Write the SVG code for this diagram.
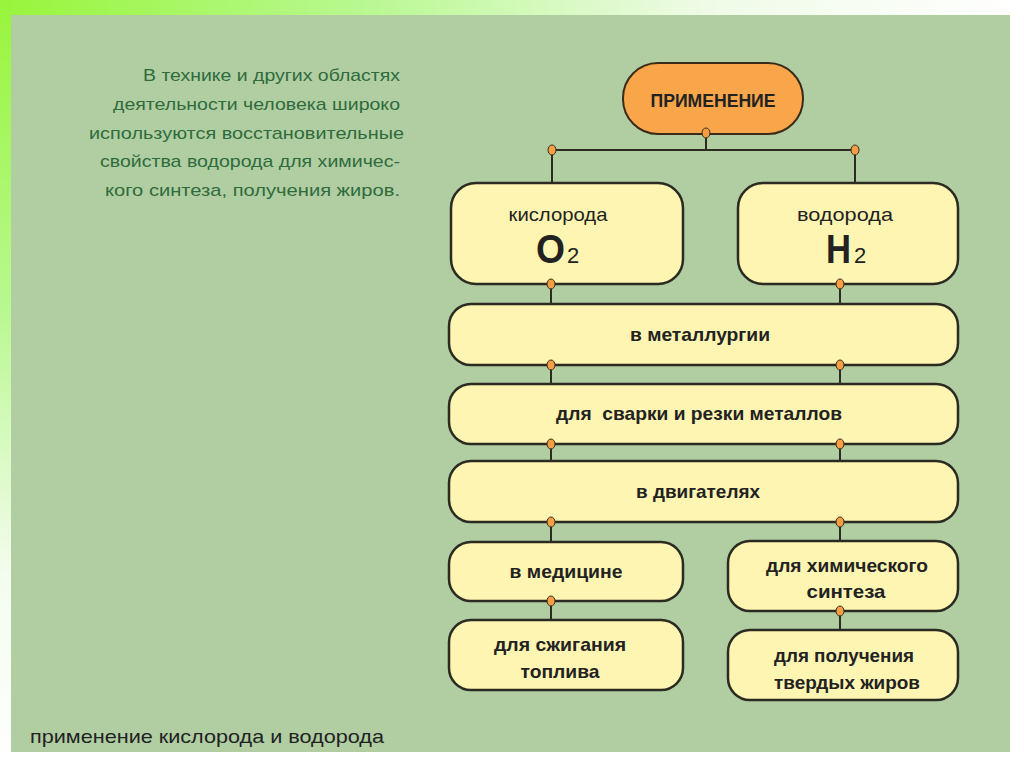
<svg xmlns="http://www.w3.org/2000/svg" width="1024" height="767" viewBox="0 0 1024 767">
<defs>
<linearGradient id="gTop" x1="0" y1="0" x2="1" y2="0">
<stop offset="0" stop-color="#98f53a"/>
<stop offset="0.35" stop-color="#b8f890"/>
<stop offset="0.7" stop-color="#f0fbe8"/>
<stop offset="1" stop-color="#ffffff"/>
</linearGradient>
<linearGradient id="gLeft" x1="0" y1="0" x2="0" y2="1">
<stop offset="0" stop-color="#98f53a"/>
<stop offset="0.4" stop-color="#b8f890"/>
<stop offset="0.75" stop-color="#f4fcee"/>
<stop offset="1" stop-color="#ffffff"/>
</linearGradient>
</defs>
<style>
.box{fill:#fff5b2;stroke:#2b2b22;stroke-width:2.5}
.top{fill:#f9a64a;stroke:#3a2a1a;stroke-width:2}
.lbl{font-family:"Liberation Sans Narrow","Liberation Sans",Arial,sans-serif;font-weight:bold;font-size:19px;fill:#222;text-anchor:middle}
.reg{font-weight:normal}
.big{font-size:40px;font-weight:bold}
.sub{font-size:22px;font-weight:normal}
.para{font-family:"Liberation Sans Narrow","Liberation Sans",Arial,sans-serif;font-size:17px;fill:#2f6b3c;text-anchor:end}
.cap{font-family:"Liberation Sans Narrow","Liberation Sans",Arial,sans-serif;font-size:19px;fill:#222}
.ln{stroke:#2b2b22;stroke-width:2;fill:none}
.dot{fill:#f59f45;stroke:#3a2a1a;stroke-width:1}
</style>
<rect x="0" y="0" width="1024" height="767" fill="#ffffff"/>
<rect x="0" y="0" width="1024" height="15" fill="url(#gTop)"/>
<rect x="0" y="0" width="11" height="767" fill="url(#gLeft)"/>
<rect x="11" y="15" width="999" height="737" fill="#b0cea2"/>

<g id="paragraph">
<text class="para" x="400" y="81" textLength="257" lengthAdjust="spacingAndGlyphs">В технике и других областях</text>
<text class="para" x="400" y="110" textLength="287" lengthAdjust="spacingAndGlyphs">деятельности человека широко</text>
<text class="para" x="404" y="139" textLength="315" lengthAdjust="spacingAndGlyphs">используются восстановительные</text>
<text class="para" x="400" y="167" textLength="300" lengthAdjust="spacingAndGlyphs">свойства водорода для химичес-</text>
<text class="para" x="400" y="196" textLength="295" lengthAdjust="spacingAndGlyphs">кого синтеза, получения жиров.</text>
</g>
<g id="caption">
<text class="cap" x="30" y="743" textLength="354" lengthAdjust="spacingAndGlyphs">применение кислорода и водорода</text>
</g>

<g id="n-primenenie">
<rect class="top" x="623" y="63" width="180" height="71" rx="35"/>
<text class="lbl" x="713" y="107" textLength="125" lengthAdjust="spacingAndGlyphs">ПРИМЕНЕНИЕ</text>
</g>
<g id="n-kislorod">
<rect class="box" x="451" y="183" width="232" height="101" rx="25"/>
<text class="lbl reg" x="558" y="221" textLength="99" lengthAdjust="spacingAndGlyphs">кислорода</text>
<text class="lbl big" x="565" y="263" style="text-anchor:end" textLength="29" lengthAdjust="spacingAndGlyphs">O</text>
<text class="lbl sub" x="567" y="263" style="text-anchor:start">2</text>
</g>
<g id="n-vodorod">
<rect class="box" x="738" y="183" width="220" height="101" rx="25"/>
<text class="lbl reg" x="845" y="221" textLength="96" lengthAdjust="spacingAndGlyphs">водорода</text>
<text class="lbl big" x="851" y="263" style="text-anchor:end" textLength="25" lengthAdjust="spacingAndGlyphs">H</text>
<text class="lbl sub" x="854" y="263" style="text-anchor:start">2</text>
</g>
<g id="n-metall">
<rect class="box" x="449" y="304" width="509" height="61" rx="22"/>
<text class="lbl" x="700" y="341" textLength="140" lengthAdjust="spacingAndGlyphs">в металлургии</text>
</g>
<g id="n-svarka">
<rect class="box" x="449" y="384" width="509" height="60" rx="22"/>
<text class="lbl" x="699" y="420" textLength="286" lengthAdjust="spacingAndGlyphs" xml:space="preserve">для  сварки и резки металлов</text>
</g>
<g id="n-dvigatel">
<rect class="box" x="449" y="461" width="509" height="61" rx="22"/>
<text class="lbl" x="698" y="498" textLength="124" lengthAdjust="spacingAndGlyphs">в двигателях</text>
</g>
<g id="n-medicina">
<rect class="box" x="449" y="542" width="234" height="59" rx="22"/>
<text class="lbl" x="566" y="578" textLength="113" lengthAdjust="spacingAndGlyphs">в медицине</text>
</g>
<g id="n-sintez">
<rect class="box" x="728" y="541" width="230" height="70" rx="22"/>
<text class="lbl" x="847" y="572" textLength="162" lengthAdjust="spacingAndGlyphs">для химического</text>
<text class="lbl" x="846" y="598" textLength="79" lengthAdjust="spacingAndGlyphs">синтеза</text>
</g>
<g id="n-toplivo">
<rect class="box" x="449" y="620" width="234" height="70" rx="22"/>
<text class="lbl" x="560" y="651" textLength="132" lengthAdjust="spacingAndGlyphs">для сжигания</text>
<text class="lbl" x="560" y="678" textLength="79" lengthAdjust="spacingAndGlyphs">топлива</text>
</g>
<g id="n-zhiry">
<rect class="box" x="728" y="630" width="230" height="70" rx="22"/>
<text class="lbl" x="844" y="662" textLength="140" lengthAdjust="spacingAndGlyphs">для получения</text>
<text class="lbl" x="847" y="689" textLength="146" lengthAdjust="spacingAndGlyphs">твердых жиров</text>
</g>

<g id="connectors">
<path class="ln" d="M706 135 V150 M552 150 H855 M552 150 V182 M855 150 V182"/>
<path class="ln" d="M551 285 V303 M840 285 V303"/>
<path class="ln" d="M551 366 V383 M840 366 V383"/>
<path class="ln" d="M551 445 V460 M840 445 V460"/>
<path class="ln" d="M551 523 V541 M840 523 V540"/>
<path class="ln" d="M551 602 V619 M840 612 V629"/>
<ellipse class="dot" cx="706" cy="133" rx="4" ry="5"/>
<ellipse class="dot" cx="552" cy="150" rx="4" ry="5"/>
<ellipse class="dot" cx="855" cy="150" rx="4" ry="5"/>
<ellipse class="dot" cx="551" cy="284" rx="4" ry="5"/>
<ellipse class="dot" cx="840" cy="284" rx="4" ry="5"/>
<ellipse class="dot" cx="551" cy="365" rx="4" ry="5"/>
<ellipse class="dot" cx="840" cy="365" rx="4" ry="5"/>
<ellipse class="dot" cx="551" cy="444" rx="4" ry="5"/>
<ellipse class="dot" cx="840" cy="444" rx="4" ry="5"/>
<ellipse class="dot" cx="551" cy="522" rx="4" ry="5"/>
<ellipse class="dot" cx="840" cy="522" rx="4" ry="5"/>
<ellipse class="dot" cx="551" cy="601" rx="4" ry="5"/>
<ellipse class="dot" cx="840" cy="611" rx="4" ry="5"/>
</g>
</svg>
